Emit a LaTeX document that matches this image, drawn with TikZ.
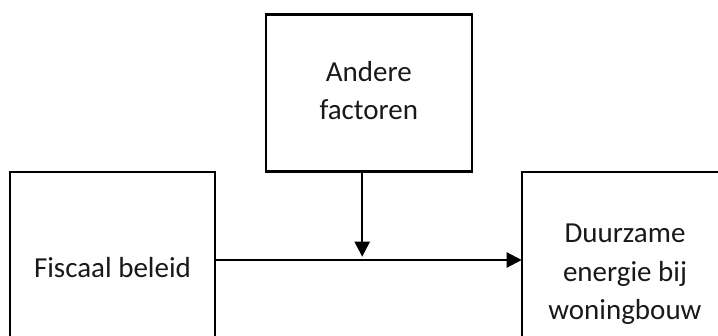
\documentclass[tikz,border=0pt]{standalone}
\usepackage{fontspec}
\setmainfont{Carlito}
\usetikzlibrary{arrows.meta}
\begin{document}
\begin{tikzpicture}[x=1pt,y=-1pt,
  box/.style={draw=black,line width=2.4pt,fill=none,inner sep=0pt,outer sep=0pt,anchor=north west},
  lbl/.style={anchor=base,inner sep=0pt,font=\fontsize{29}{38}\selectfont,text=black!90},
  arr/.style={line width=2.4pt,-{Triangle[length=15pt,width=15pt]}}]
\useasboundingbox (0,0) rectangle (718,336);
\clip (0,0) rectangle (718,336);
% boxes
\node[box,minimum width=205pt,minimum height=176pt] (fiscaal) at (10,172) {};
\node[box,minimum width=206.3pt,minimum height=157pt] (factoren) at (265.7,14.7) {};
\node[box,minimum width=206pt,minimum height=176pt] (duurzaam) at (521.7,172) {};
% labels
\node[lbl] (t1) at (112.5,278) {Fiscaal beleid};
\node[lbl] (t2) at (368.8,82) {Andere};
\node[lbl] (t3) at (368.8,120) {factoren};
\node[lbl] (t4) at (625,243) {Duurzame};
\node[lbl] (t5) at (625,281.5) {energie bij};
\node[lbl] (t6) at (625,319.5) {woningbouw};
% connectors
\coordinate (meet) at (362.2,256.7);
\draw[arr] (fiscaal.east) -- (duurzaam.west);
\draw[arr] (factoren.south -| meet) -- (meet);
\end{tikzpicture}
\end{document}
